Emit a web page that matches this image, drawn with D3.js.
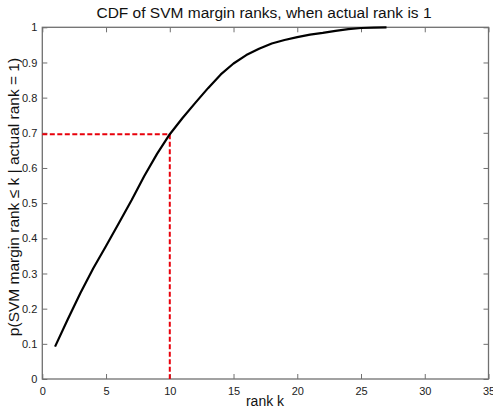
<!DOCTYPE html>
<html><head><meta charset="utf-8">
<script src="https://cdn.jsdelivr.net/npm/d3@7"></script>
<style>body{margin:0;background:#fff}svg{display:block}text{font-family:"Liberation Sans",Arial,sans-serif}</style>
</head><body><svg id="c" width="493" height="411"></svg>
<script>
const ranks = [1,2,3,4,5,6,7,8,9,10,11,12,13,14,15,16,17,18,19,20,21,22,23,24,25,26,27];
const cdf = [0.092,0.17,0.245,0.315,0.378,0.443,0.508,0.577,0.640,0.696,0.742,0.785,0.827,0.866,0.897,0.921,0.939,0.954,0.964,0.972,0.979,0.984,0.990,0.995,0.998,0.999,1.0];
const markK = 10, markP = 0.696;
const xTicks = [0,5,10,15,20,25,30,35];
const yTicks = [0,0.1,0.2,0.3,0.4,0.5,0.6,0.7,0.8,0.9,1];
const title = "CDF of SVM margin ranks, when actual rank is 1";
const xLabel = "rank k";
const yLabel = "p(SVM margin rank \u2264 k | actual rank = 1)";

const L=42.3,R=488.5,T=27.3,B=379;
const svg=d3.select("#c");
const x=d3.scaleLinear().domain([0,35]).range([L,R]);
const y=d3.scaleLinear().domain([0,1]).range([B,T]);
const axisCol="#707070";

svg.append("rect").attr("x",L).attr("y",T).attr("width",R-L).attr("height",B-T)
  .attr("fill","none").attr("stroke",axisCol).attr("stroke-width",1.3);

const gx=svg.append("g").attr("transform",`translate(0,${B})`)
  .call(d3.axisBottom(x).tickValues(xTicks).tickSize(-5).tickPadding(8).tickFormat(d3.format("d")));
const gxt=svg.append("g").attr("transform",`translate(0,${T})`)
  .call(d3.axisTop(x).tickValues(xTicks).tickSize(-5).tickFormat(""));
const gy=svg.append("g").attr("transform",`translate(${L},0)`)
  .call(d3.axisLeft(y).tickValues(yTicks).tickSize(-5).tickPadding(5).tickFormat(d=>d===0?"0":d===1?"1":d3.format(".1f")(d)));
const gyr=svg.append("g").attr("transform",`translate(${R},0)`)
  .call(d3.axisRight(y).tickValues(yTicks).tickSize(-5).tickFormat(""));
[gx,gxt,gy,gyr].forEach(g=>{
  g.select(".domain").remove();
  g.selectAll("line").attr("stroke",axisCol).attr("stroke-width",1);
  g.selectAll("text").attr("fill","#222").style("font-size","11px").style("font-family",'"Liberation Sans",Arial,sans-serif');
});

svg.append("path")
  .attr("d",`M${x(0)},${y(markP)}H${x(markK)}V${y(0)}`)
  .attr("fill","none").attr("stroke","#e8000b").attr("stroke-width",2).attr("stroke-dasharray","5,2.5");

const line=d3.line().x((d,i)=>x(ranks[i])).y(d=>y(d));
svg.append("path").datum(cdf).attr("d",line).attr("fill","none")
  .attr("stroke","#000").attr("stroke-width",2.2).attr("stroke-linejoin","round");

svg.append("text").attr("x",264).attr("y",18).attr("text-anchor","middle")
  .style("font-size","15.5px").attr("fill","#111").text(title);
svg.append("text").attr("x",265).attr("y",406).attr("text-anchor","middle")
  .style("font-size","14px").attr("fill","#111").text(xLabel);
svg.append("text").attr("transform",`translate(19,197) rotate(-90)`).attr("text-anchor","middle")
  .style("font-size","15.5px").attr("fill","#111").text(yLabel);
</script></body></html>
